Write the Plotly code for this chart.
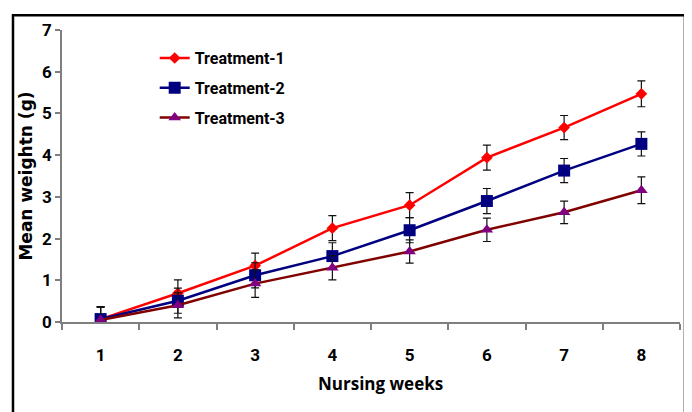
import plotly.graph_objects as go

weeks = ["1", "2", "3", "4", "5", "6", "7", "8"]
t1 = [0.07, 0.69, 1.35, 2.25, 2.80, 3.94, 4.66, 5.47]
t1_err = [0.30, 0.32, 0.30, 0.30, 0.30, 0.30, 0.29, 0.31]
t2 = [0.07, 0.51, 1.12, 1.58, 2.20, 2.90, 3.63, 4.27]
t2_err = [0.30, 0.30, 0.30, 0.32, 0.30, 0.30, 0.29, 0.29]
t3 = [0.05, 0.40, 0.92, 1.30, 1.69, 2.21, 2.63, 3.16]
t3_err = [0.30, 0.30, 0.33, 0.29, 0.28, 0.28, 0.27, 0.32]

NARROW = "Liberation Sans Narrow, Arial Narrow, Roboto, sans-serif"

fig = go.Figure()

def add(name, y, err, line_color, marker_color, symbol, size, group):
    fig.add_trace(go.Scatter(
        x=weeks, y=y, name=name, mode="lines+markers",
        line=dict(color=line_color, width=2.5),
        marker=dict(color=marker_color, symbol=symbol, size=size),
        error_y=dict(type="data", array=err, visible=True, color="#111111",
                     thickness=1.2, width=4),
        legendgroup=group,
    ))

add("Treatment-1", t1, t1_err, "#FF0000", "#FF0000", "diamond", 9, "a")
add("Treatment-2", t2, t2_err, "#000080", "#000080", "square", 12, "b")
add("Treatment-3", t3, t3_err, "#800000", "#800080", "triangle-up", 11, "c")

fig.update_layout(
    width=684, height=404,
    margin=dict(l=54, r=12, t=17, b=90),
    paper_bgcolor="white", plot_bgcolor="white",
    showlegend=True,
    legend=dict(x=0.15, y=0.962, xanchor="left", yanchor="top",
                bgcolor="rgba(0,0,0,0)", tracegroupgap=6,
                font=dict(family=NARROW, size=16, color="black", weight="bold"),
                itemwidth=30),
    xaxis=dict(
        type="category", range=[-0.5, 7.5], tickson="boundaries",
        showline=True, linecolor="#7f7f7f", linewidth=1.5,
        ticks="outside", ticklen=6, tickcolor="#7f7f7f", tickwidth=1.5,
        showgrid=False, zeroline=False,
        tickfont=dict(family=NARROW, size=17, color="black", weight="bold"),
        ticklabelstandoff=17,
    ),
    yaxis=dict(
        range=[0, 7], dtick=1, tick0=0,
        showline=True, linecolor="#7f7f7f", linewidth=1.5,
        ticks="outside", ticklen=5, tickcolor="#7f7f7f", tickwidth=1.5,
        showgrid=False, zeroline=False,
        tickfont=dict(family=NARROW, size=17, color="black", weight="bold"),
        title=dict(text="<b>Mean weightn (g)</b>", standoff=5,
                   font=dict(family="DejaVu Sans, sans-serif", size=17, color="black")),
    ),
    annotations=[dict(
        text="<b>Nursing weeks</b>", xref="paper", yref="paper",
        x=0.516, y=-0.212, xanchor="center", yanchor="middle", showarrow=False,
        font=dict(family="Open Sans, sans-serif", size=17, color="black"),
    )],
)

fig.add_shape(type="rect", xref="paper", yref="paper",
              x0=-0.0793, x1=1.008, y0=-0.35, y1=1.0505,
              line=dict(color="black", width=2.5), fillcolor="rgba(0,0,0,0)",
              layer="below")

fig.write_html("out.html")
